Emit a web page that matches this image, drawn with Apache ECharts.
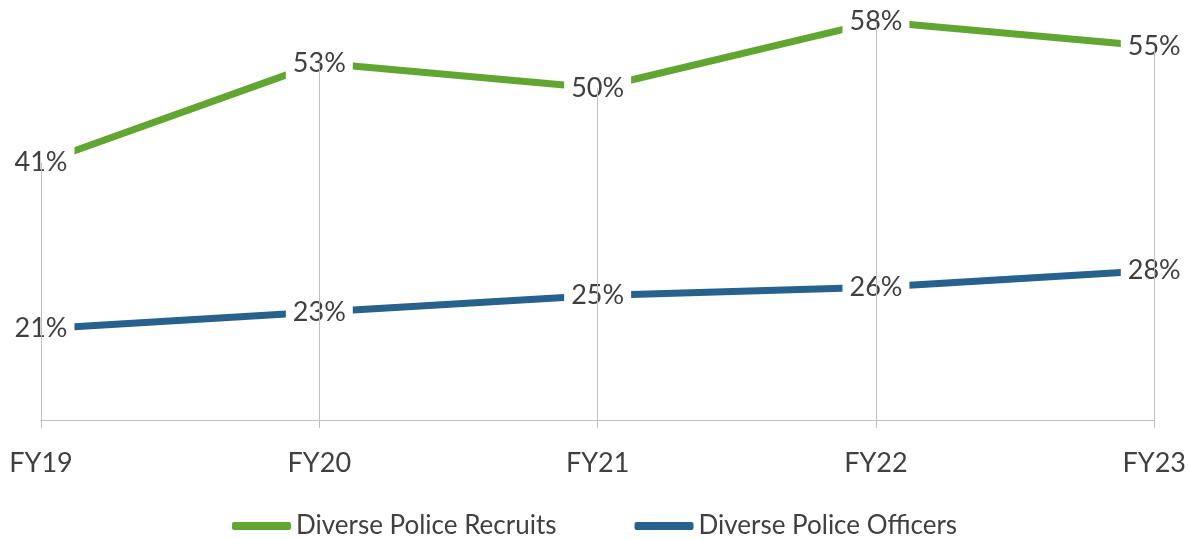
<!DOCTYPE html>
<html>
<head>
<meta charset="utf-8">
<script src="https://cdn.jsdelivr.net/npm/echarts@6/dist/echarts.min.js"></script>
<style>
  html, body { margin: 0; padding: 0; background: #fff; }
  #chart { width: 1189px; height: 539px; }
</style>
</head>
<body>
<div id="chart"></div>
<script>
// data
const years = ['FY19', 'FY20', 'FY21', 'FY22', 'FY23']
const recruits = [41, 53, 50, 58, 55]
const officers = [21, 23, 25, 26, 28]

const font = 'Lato, "Open Sans", sans-serif'
const gray = '#bfbfbf'

function lineSeries(name, data, color) {
  return {
    name: name,
    type: 'line',
    data: data,
    symbol: 'circle',
    symbolSize: 0,
    lineStyle: { width: 7, color: color, cap: 'butt' },
    itemStyle: { color: color },
    label: {
      show: true,
      position: 'inside',
      formatter: '{c}%',
      color: '#404040',
      fontSize: 27,
      fontFamily: font,
      backgroundColor: '#fff',
      padding: [8, 7]
    },
    emphasis: { disabled: true }
  }
}

const recruitSeries = lineSeries('Diverse Police Recruits', recruits, '#62a632')
// drop lines from the top series down to the axis
recruitSeries.markLine = {
  silent: true,
  symbol: 'none',
  label: { show: false },
  lineStyle: { color: gray, width: 1, type: 'solid' },
  data: years.map((y, i) => [{ coord: [y, 10] }, { coord: [y, recruits[i]] }])
}

const chart = echarts.init(document.getElementById('chart'))
chart.setOption({
  animation: false,
  grid: { left: 41, right: 33, top: 5, bottom: 119 },
  xAxis: {
    type: 'category',
    data: years,
    boundaryGap: false,
    axisLine: { lineStyle: { color: gray, width: 1 } },
    axisTick: { show: true, length: 8, lineStyle: { color: gray } },
    splitLine: { show: false },
    axisLabel: { color: '#404040', fontSize: 27, fontFamily: font, margin: 30 }
  },
  yAxis: {
    type: 'value',
    min: 10,
    max: 60,
    show: false
  },
  legend: {
    top: 508,
    left: 'center',
    itemWidth: 59,
    itemHeight: 8,
    itemGap: 78,
    icon: 'roundRect',
    textStyle: { color: '#404040', fontSize: 26, fontFamily: font },
    data: ['Diverse Police Recruits', 'Diverse Police Officers']
  },
  series: [
    recruitSeries,
    lineSeries('Diverse Police Officers', officers, '#27628f')
  ]
})
</script>
</body>
</html>
